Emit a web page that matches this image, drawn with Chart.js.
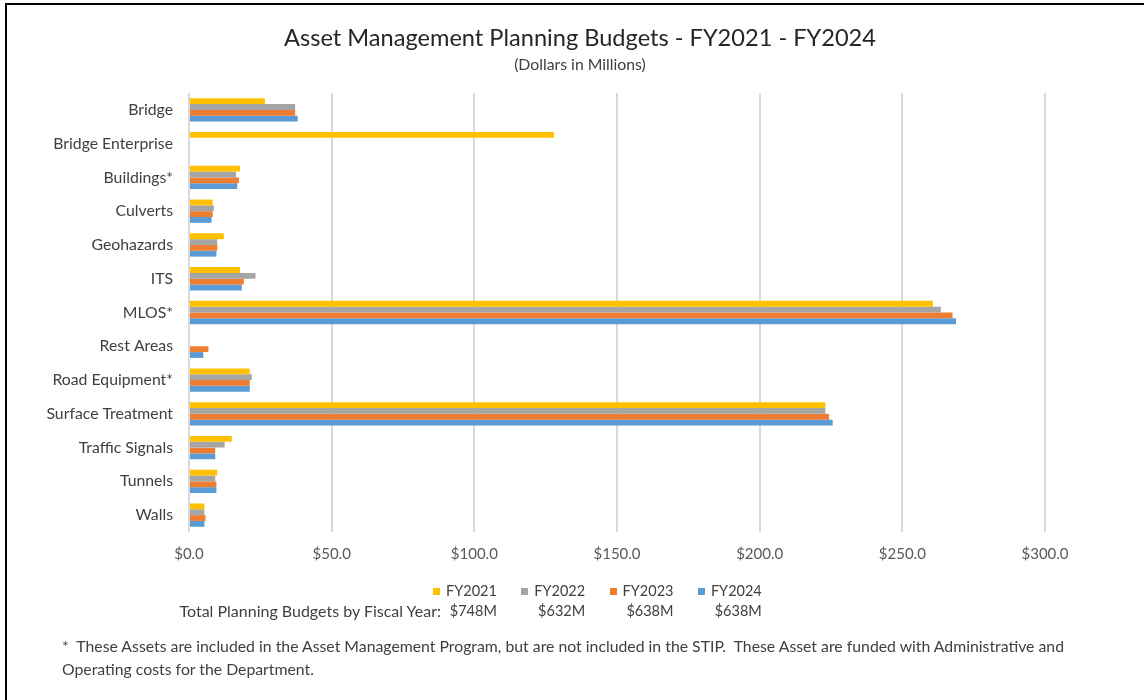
<!DOCTYPE html>
<html>
<head>
<meta charset="utf-8">
<script src="https://cdn.jsdelivr.net/npm/chart.js@4.4.1/dist/chart.umd.min.js"></script>
<style>
  html, body { margin: 0; padding: 0; background: #fff; }
  #frame { position: relative; width: 1144px; height: 700px; overflow: hidden; font-family: Lato, sans-serif; color: #404040; font-size: 15.7px; }
  #edge { position: absolute; left: 5px; top: 3px; right: -10px; bottom: -10px; border-left: 2px solid #000; border-top: 2px solid #000; pointer-events: none; }
  #chart { position: absolute; left: 0; top: 0; }
  #title { position: absolute; left: 380px; width: 400px; top: 22px; line-height: 30px; text-align: center; white-space: nowrap; font-size: 23.6px; color: #262626; }
  #subtitle { position: absolute; left: 380px; width: 400px; top: 54px; line-height: 20px; text-align: center; white-space: nowrap; font-size: 15.8px; color: #404040; }
  #title span, #subtitle span { display: inline-block; margin: 0 -200px; }
  .col { position: absolute; top: 581px; text-align: right; line-height: 20px; white-space: nowrap; font-size: 14.5px; }
  .swatch { display: inline-block; width: 7px; height: 7px; margin-right: 6px; vertical-align: 1px; }
  #totals-label { position: absolute; right: 703px; top: 601px; line-height: 20px; white-space: nowrap; font-size: 16px; }
  #note { position: absolute; left: 62px; top: 634px; line-height: 23px; white-space: pre; font-size: 15.8px; }
</style>
</head>
<body>
<div id="frame">
  <canvas id="chart" width="1144" height="700"></canvas>
  <div id="title"><span>Asset Management Planning Budgets - FY2021 - FY2024</span></div>
  <div id="subtitle"><span>(Dollars in Millions)</span></div>
  <div id="legend"></div>
  <div id="totals-label">Total Planning Budgets by Fiscal Year:</div>
  <div id="note">*  These Assets are included in the Asset Management Program, but are not included in the STIP.  These Asset are funded with Administrative and
Operating costs for the Department.</div>
  <div id="edge"></div>
</div>
<script>
const categories = ["Bridge", "Bridge Enterprise", "Buildings*", "Culverts", "Geohazards", "ITS", "MLOS*",
    "Rest Areas", "Road Equipment*", "Surface Treatment", "Traffic Signals", "Tunnels", "Walls"];

// $ millions
const fy2021 = [26.6, 127.9, 17.9, 8.3, 12.2, 17.9, 260.7, 0, 21.3, 223.0, 15.0, 9.9, 5.4];
const fy2022 = [37.2, 0, 16.5, 8.7, 9.9, 23.3, 263.5, 0, 22.0, 223.0, 12.5, 9.2, 5.4];
const fy2023 = [37.2, 0, 17.5, 8.3, 9.9, 19.2, 267.6, 6.8, 21.3, 224.3, 9.2, 9.6, 5.8];
const fy2024 = [38.1, 0, 16.9, 7.9, 9.6, 18.5, 268.8, 5.0, 21.3, 225.6, 9.2, 9.6, 5.4];

const seriesLabels = ["FY2021", "FY2022", "FY2023", "FY2024"];
const seriesColors = ["#FFC000", "#A5A5A5", "#ED7D31", "#5B9BD5"];
const totalLabels = ["$748M", "$632M", "$638M", "$638M"];
const xTicks = [0, 50, 100, 150, 200, 250, 300];

Chart.defaults.font.family = "Lato";

const seriesValues = [fy2021, fy2022, fy2023, fy2024];
const datasets = seriesLabels.map((label, i) => ({
    label: label,
    data: seriesValues[i],
    backgroundColor: seriesColors[i],
    borderWidth: 0,
}));

const ctx = document.getElementById("chart").getContext("2d");
const chart = new Chart(ctx, {
    type: "bar",
    data: { labels: categories, datasets: datasets },
    options: {
        indexAxis: "y",
        responsive: false,
        animation: false,
        layout: { padding: { left: 0, right: 99, top: 93, bottom: 128 } },
        datasets: { bar: { categoryPercentage: 0.69, barPercentage: 1 } },
        plugins: {
            legend: { display: false },
            tooltip: { enabled: false },
        },
        scales: {
            x: {
                min: xTicks[0],
                max: xTicks[xTicks.length - 1],
                ticks: {
                    stepSize: 50,
                    color: "#595959",
                    font: { size: 15 },
                    padding: 13,
                    callback: (v) => "$" + v.toFixed(1),
                },
                grid: { color: "#d9d9d9", lineWidth: 2, drawTicks: false },
                border: { display: false },
                afterFit: (scale) => { scale.height = 40; },
            },
            y: {
                ticks: { color: "#404040", font: { size: 15.8 }, padding: 16, autoSkip: false },
                grid: { display: false, drawTicks: false },
                border: { display: false },
                afterFit: (scale) => { scale.width = 189; },
            },
        },
    },
});

// legend + totals row, one column per fiscal year
const legend = document.getElementById("legend");
seriesLabels.forEach((label, i) => {
    const col = document.createElement("div");
    col.className = "col";
    col.style.left = (433 + 88.3 * i) + "px";
    col.innerHTML = '<div><span class="swatch" style="background:' + seriesColors[i] + '"></span>' + label + "</div>" +
        "<div>" + totalLabels[i] + "</div>";
    legend.appendChild(col);
});
</script>
</body>
</html>
